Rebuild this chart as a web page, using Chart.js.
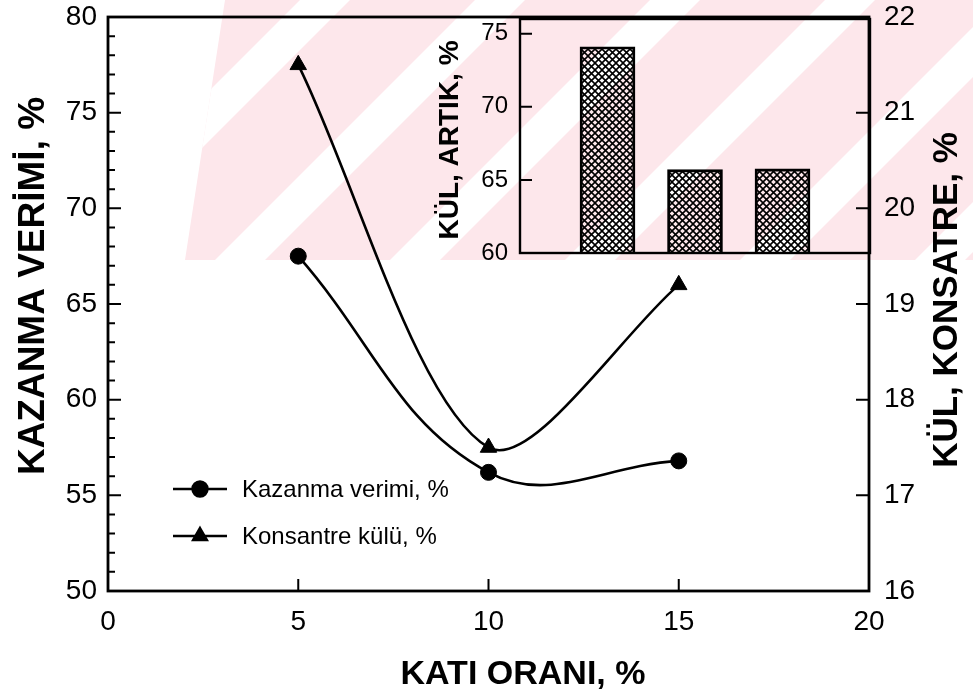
<!DOCTYPE html>
<html>
<head>
<meta charset="utf-8">
<script src="https://cdn.jsdelivr.net/npm/chart.js@4/dist/chart.umd.min.js"></script>
<style>
  html, body { margin: 0; padding: 0; background: #fff; }
  #wrap { position: relative; width: 973px; height: 692px; overflow: hidden; }
  #main { position: absolute; left: 0; top: 0; }
  #inset { position: absolute; left: 420px; top: 0; }
</style>
</head>
<body>
<div id="wrap">
  <canvas id="main" width="973" height="692"></canvas>
  <canvas id="inset" width="460" height="300"></canvas>
</div>
<script>
// Solid ratio (%) and the measured results at each ratio
const katiOrani = [5, 10, 15];
const kazanmaVerimi = [67.5, 56.2, 56.8];   // recovery, % (left axis)
const konsantreKulu = [21.5, 17.5, 19.2];   // concentrate ash, % (right axis)
const artikKulu = [74.1, 65.7, 65.75];      // tailings ash, % (inset bars)

// Axis ranges and tick steps
const xRange = [0, 20], xStep = 5;
const leftRange = [50, 80], leftStep = 5;
const rightRange = [16, 22], rightStep = 1;
const insetRange = [60, 76], insetStep = 5;

const FONT = '"Liberation Sans", Arial, Helvetica, sans-serif';
const INK = '#000';

const toPoints = ys => katiOrani.map((x, i) => ({ x, y: ys[i] }));

// fixed axis box size; tick labels may overhang the plot edges
function fixedBox(size) {
  return s => {
    if (s.isHorizontal()) s.height = size; else s.width = size;
    s.paddingTop = 0; s.paddingBottom = 0;
    s.paddingLeft = 0; s.paddingRight = 0;
  };
}

// faint striped band across the top of the page
const backdrop = {
  id: 'backdrop',
  beforeDraw(chart) {
    const ctx = chart.ctx;
    ctx.save();
    ctx.beginPath();
    ctx.moveTo(225, 0); ctx.lineTo(973, 0); ctx.lineTo(973, 260); ctx.lineTo(185, 260);
    ctx.closePath();
    ctx.clip();
    ctx.fillStyle = 'rgb(253,231,235)';
    ctx.fillRect(0, 0, 973, 260);
    ctx.fillStyle = '#fff';
    for (let x0 = 40; x0 < 1200; x0 += 175) {
      ctx.beginPath();
      ctx.moveTo(x0, 260); ctx.lineTo(x0 + 50, 260);
      ctx.lineTo(x0 + 50 + 260, 0); ctx.lineTo(x0 + 260, 0);
      ctx.closePath();
      ctx.fill();
    }
    ctx.restore();
  }
};

// boxed frame with inward tick marks
const frame = {
  id: 'frame',
  afterDatasetsDraw(chart) {
    const { ctx, chartArea: a, scales } = chart;
    ctx.save();
    ctx.strokeStyle = INK;
    ctx.lineWidth = 2.8;
    ctx.strokeRect(a.left, a.top, a.right - a.left, a.bottom - a.top);
    ctx.lineWidth = 2;
    ctx.beginPath();
    const yl = scales.yL;
    for (let v = leftRange[0]; v <= leftRange[1]; v += 1) {
      const y = yl.getPixelForValue(v);
      const len = v % leftStep === 0 ? 13 : 7;
      ctx.moveTo(a.left, y); ctx.lineTo(a.left + len, y);
    }
    const yr = scales.yR;
    for (let v = rightRange[0]; v <= rightRange[1]; v += rightStep) {
      const y = yr.getPixelForValue(v);
      ctx.moveTo(a.right, y); ctx.lineTo(a.right - 13, y);
    }
    const xs = scales.x;
    for (let v = xRange[0]; v <= xRange[1]; v += xStep) {
      const x = xs.getPixelForValue(v);
      ctx.moveTo(x, a.bottom); ctx.lineTo(x, a.bottom - 12);
    }
    ctx.stroke();
    ctx.restore();
  }
};

function marker(ctx, style, r, x, y) {
  if (Chart.helpers && Chart.helpers.drawPoint) {
    Chart.helpers.drawPoint(ctx, { pointStyle: style, radius: r, rotation: 0, borderWidth: 1 }, x, y);
    return;
  }
  ctx.beginPath();
  if (style === 'triangle') {
    ctx.moveTo(x, y - r);
    ctx.lineTo(x + r * 0.866, y + r / 2);
    ctx.lineTo(x - r * 0.866, y + r / 2);
    ctx.closePath();
  } else {
    ctx.arc(x, y, r, 0, Math.PI * 2);
  }
  ctx.fill();
}

// legend in the lower-left of the plot
const legendBox = {
  id: 'legendBox',
  afterDraw(chart) {
    const ctx = chart.ctx;
    const rows = [489, 536];
    ctx.save();
    chart.data.datasets.forEach((ds, i) => {
      const y = rows[i];
      ctx.strokeStyle = INK;
      ctx.fillStyle = INK;
      ctx.lineWidth = 2.4;
      ctx.beginPath();
      ctx.moveTo(173, y); ctx.lineTo(227, y);
      ctx.stroke();
      marker(ctx, ds.pointStyle, ds.pointStyle === 'triangle' ? 8 : 7.5, 200, y);
      ctx.font = `24px ${FONT}`;
      ctx.textAlign = 'left';
      ctx.textBaseline = 'middle';
      ctx.fillText(ds.label, 242, y + 1);
    });
    ctx.restore();
  }
};

// axis titles
const axisTitles = {
  id: 'axisTitles',
  afterDraw(chart) {
    const ctx = chart.ctx;
    ctx.save();
    ctx.fillStyle = INK;
    ctx.textAlign = 'center';
    ctx.textBaseline = 'alphabetic';
    ctx.font = `bold 34px ${FONT}`;
    ctx.fillText('KATI ORANI, %', 523, 684);

    ctx.save();
    ctx.translate(44, 286);
    ctx.rotate(-Math.PI / 2);
    ctx.font = `bold 37px ${FONT}`;
    ctx.fillText('KAZANMA VERİMİ, %', 0, 0);
    ctx.restore();

    ctx.save();
    ctx.translate(957, 300);
    ctx.rotate(-Math.PI / 2);
    ctx.font = `bold 35px ${FONT}`;
    ctx.fillText('KÜL, KONSATRE, %', 0, 0);
    ctx.restore();
    ctx.restore();
  }
};

const tickFont = { family: FONT, size: 28 };

new Chart(document.getElementById('main'), {
  type: 'line',
  data: {
    datasets: [
      {
        label: 'Kazanma verimi, %',
        data: toPoints(kazanmaVerimi),
        yAxisID: 'yL',
        borderColor: INK, backgroundColor: INK,
        borderWidth: 2.6,
        pointStyle: 'circle', pointRadius: 8, pointBorderWidth: 1,
        tension: 0.4, fill: false
      },
      {
        label: 'Konsantre külü, %',
        data: toPoints(konsantreKulu),
        yAxisID: 'yR',
        borderColor: INK, backgroundColor: INK,
        borderWidth: 2.6,
        pointStyle: 'triangle', pointRadius: 9.5, pointBorderWidth: 1,
        tension: 0.3, fill: false
      }
    ]
  },
  options: {
    responsive: false,
    animation: false,
    devicePixelRatio: 1,
    layout: { padding: { top: 17, left: 0, right: 0, bottom: 0 } },
    plugins: { legend: { display: false }, tooltip: { enabled: false } },
    scales: {
      x: {
        type: 'linear', position: 'bottom', min: xRange[0], max: xRange[1],
        afterFit: fixedBox(101),
        ticks: { stepSize: xStep, font: tickFont, color: INK, padding: 14, maxRotation: 0 },
        grid: { display: false, drawTicks: false },
        border: { display: false }
      },
      yL: {
        type: 'linear', position: 'left', min: leftRange[0], max: leftRange[1],
        afterFit: fixedBox(108),
        ticks: { stepSize: leftStep, font: tickFont, color: INK, padding: 11 },
        grid: { display: false, drawTicks: false },
        border: { display: false }
      },
      yR: {
        type: 'linear', position: 'right', min: rightRange[0], max: rightRange[1],
        afterFit: fixedBox(104),
        ticks: { stepSize: rightStep, font: tickFont, color: INK, padding: 15 },
        grid: { display: false, drawTicks: false },
        border: { display: false }
      }
    }
  },
  plugins: [backdrop, frame, legendBox, axisTitles]
});

// cross-hatched fill for the inset bars
function crossHatch() {
  const s = 7;
  const c = document.createElement('canvas');
  c.width = s; c.height = s;
  const g = c.getContext('2d');
  g.strokeStyle = INK;
  g.lineWidth = 1.6;
  g.beginPath();
  g.moveTo(0, 0); g.lineTo(s, s);
  g.moveTo(s, 0); g.lineTo(0, s);
  g.stroke();
  return c.getContext('2d').createPattern(c, 'repeat');
}

const insetFrame = {
  id: 'insetFrame',
  afterDatasetsDraw(chart) {
    const { ctx, chartArea: a, scales } = chart;
    ctx.save();
    ctx.strokeStyle = INK;
    ctx.lineWidth = 2.4;
    ctx.strokeRect(a.left, a.top, a.right - a.left, a.bottom - a.top);
    ctx.lineWidth = 2;
    ctx.beginPath();
    for (let v = insetRange[0] + insetStep; v < insetRange[1]; v += insetStep) {
      const y = scales.y.getPixelForValue(v);
      ctx.moveTo(a.left, y); ctx.lineTo(a.left + 12, y);
    }
    ctx.stroke();

    ctx.fillStyle = INK;
    ctx.textAlign = 'center';
    ctx.textBaseline = 'alphabetic';
    ctx.translate(38, 140);
    ctx.rotate(-Math.PI / 2);
    ctx.font = `bold 28px ${FONT}`;
    ctx.fillText('KÜL, ARTIK, %', 0, 0);
    ctx.restore();
  }
};

new Chart(document.getElementById('inset'), {
  type: 'bar',
  data: {
    datasets: [{
      label: 'KÜL, ARTIK, %',
      data: toPoints(artikKulu),
      backgroundColor: crossHatch(),
      borderColor: INK,
      borderWidth: 2.2,
      borderSkipped: false,
      barThickness: 55
    }]
  },
  options: {
    responsive: false,
    animation: false,
    devicePixelRatio: 1,
    layout: { padding: { top: 19, right: 10, bottom: 47, left: 0 } },
    plugins: { legend: { display: false }, tooltip: { enabled: false } },
    scales: {
      x: { type: 'linear', min: xRange[0], max: xRange[1], offset: false, display: false },
      y: {
        type: 'linear', min: insetRange[0], max: insetRange[1],
        afterFit: fixedBox(100),
        ticks: { stepSize: insetStep, includeBounds: false, font: { family: FONT, size: 24 }, color: INK, padding: 12 },
        grid: { display: false, drawTicks: false },
        border: { display: false }
      }
    }
  },
  plugins: [insetFrame]
});
</script>
</body>
</html>
